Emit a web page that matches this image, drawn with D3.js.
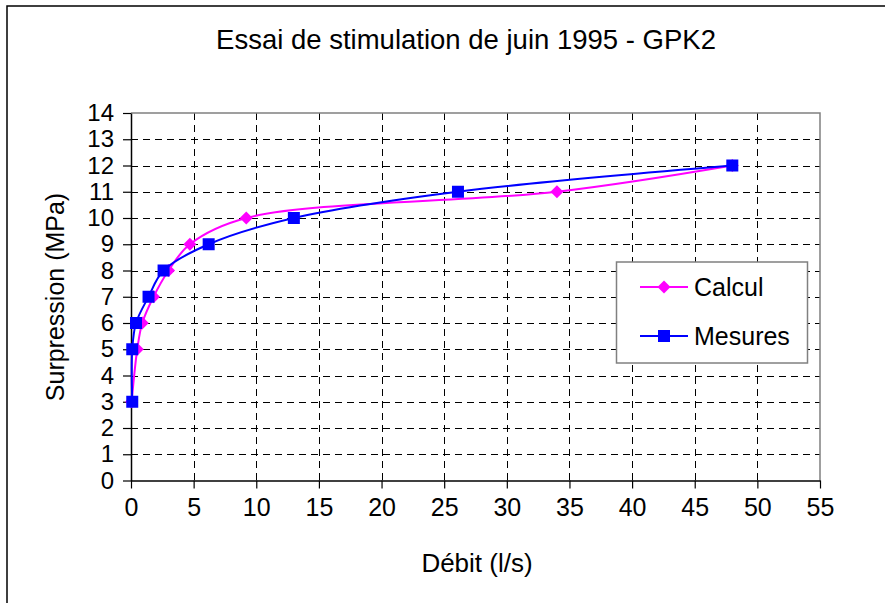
<!DOCTYPE html>
<html>
<head>
<meta charset="utf-8">
<script src="https://cdn.jsdelivr.net/npm/d3@7"></script>
<style>
  body { margin: 0; background: #fff; }
  text { font-family: "Liberation Sans", Arial, sans-serif; fill: #000; }
</style>
</head>
<body>
<script>
// data
var mesuresDebit = [0.1, 0.1, 0.4, 1.4, 2.6, 6.2, 13.0, 26.1, 48.0];
var mesuresPression = [3, 5, 6, 7, 8, 9, 10, 11, 12];
var calculDebit = [0.05, 0.5, 0.9, 1.8, 3.0, 4.7, 9.2, 34.0, 48.0];
var calculPression = [3, 5, 6, 7, 8, 9, 10, 11, 12];
var xTicks = [0, 5, 10, 15, 20, 25, 30, 35, 40, 45, 50, 55];
var yTicks = [0, 1, 2, 3, 4, 5, 6, 7, 8, 9, 10, 11, 12, 13, 14];

var width = 885, height = 603;
var svg = d3.select("body").append("svg").attr("width", width).attr("height", height);

// outer chart frame (runs off the right and bottom edges)
svg.append("rect").attr("x", 7).attr("y", 6).attr("width", 900).attr("height", 700)
  .attr("fill", "none").attr("stroke", "#000").attr("stroke-width", 1.5);

var x = d3.scaleLinear().domain([0, 55]).range([131, 820]);
var y = d3.scaleLinear().domain([0, 14]).range([480.5, 113]);

var grid = svg.append("g");
grid.selectAll(".vg").data(xTicks.filter(function(d){ return d > 0 && d < 55; }))
  .enter().append("line")
  .attr("x1", function(d){ return Math.round(x(d)) + 0.5; })
  .attr("x2", function(d){ return Math.round(x(d)) + 0.5; })
  .attr("y1", y(14)).attr("y2", y(0))
  .attr("stroke", "#000").attr("stroke-dasharray", "7,5");
grid.selectAll(".hg").data(yTicks.filter(function(d){ return d > 0 && d < 14; }))
  .enter().append("line")
  .attr("x1", x(0)).attr("x2", x(55))
  .attr("y1", function(d){ return Math.round(y(d)) + 0.5; })
  .attr("y2", function(d){ return Math.round(y(d)) + 0.5; })
  .attr("stroke", "#000").attr("stroke-dasharray", "7,5");

// plot border top/right
svg.append("path")
  .attr("d", "M" + x(0) + "," + (y(14)) + "H" + x(55) + "V" + y(0))
  .attr("fill", "none").attr("stroke", "#808080").attr("stroke-width", 1.5);

var xAxis = d3.axisBottom(x).tickValues(xTicks).tickSize(8).tickPadding(10).tickSizeOuter(0);
var yAxis = d3.axisLeft(y).tickValues(yTicks).tickSize(8).tickPadding(9).tickSizeOuter(0);

var gx = svg.append("g").attr("transform", "translate(0," + y(0) + ")").call(xAxis);
var gy = svg.append("g").attr("transform", "translate(" + x(0) + ",0)").call(yAxis);
[gx, gy].forEach(function(g){
  g.select(".domain").attr("stroke", "#000").attr("stroke-width", 1.5);
  g.selectAll(".tick line").attr("stroke", "#000").attr("stroke-width", 1.2);
  g.selectAll(".tick text").attr("font-size", 24).attr("font-family", "Liberation Sans, Arial, sans-serif").attr("fill", "#000");
});
gx.selectAll(".tick text").attr("font-size", 25);

svg.append("text").attr("x", 466).attr("y", 49).attr("text-anchor", "middle")
  .attr("font-size", 27.5).text("Essai de stimulation de juin 1995 - GPK2");
svg.append("text").attr("x", 477).attr("y", 572).attr("text-anchor", "middle")
  .attr("font-size", 26).text("Débit (l/s)");
svg.append("text").attr("transform", "translate(64,297) rotate(-90)").attr("text-anchor", "middle")
  .attr("font-size", 25).text("Surpression (MPa)");

var line = d3.line().curve(d3.curveCatmullRom.alpha(0.5))
  .x(function(d){ return x(d[0]); })
  .y(function(d){ return y(d[1]); });

var calcul = d3.zip(calculDebit, calculPression);
var mesures = d3.zip(mesuresDebit, mesuresPression);

var diamond = d3.symbol().type(d3.symbolSquare).size(84);

svg.append("path").datum(calcul).attr("d", line)
  .attr("fill", "none").attr("stroke", "#ff00ff").attr("stroke-width", 2);
svg.selectAll(".dia").data(calcul).enter().append("path")
  .attr("transform", function(d){ return "translate(" + x(d[0]) + "," + y(d[1]) + ") rotate(45)"; })
  .attr("d", diamond)
  .attr("fill", "#ff00ff");

svg.append("path").datum(mesures).attr("d", line)
  .attr("fill", "none").attr("stroke", "#0000ff").attr("stroke-width", 2);
svg.selectAll(".sq").data(mesures).enter().append("rect")
  .attr("x", function(d){ return x(d[0]) - 6; })
  .attr("y", function(d){ return y(d[1]) - 6; })
  .attr("width", 12).attr("height", 12)
  .attr("fill", "#0000ff");

// legend
var legend = svg.append("g");
legend.append("rect").attr("x", 616.5).attr("y", 262).attr("width", 191).attr("height", 101)
  .attr("fill", "#fff").attr("stroke", "#808080").attr("stroke-width", 1.5);
var items = [
  { name: "Calcul", color: "#ff00ff", y: 287 },
  { name: "Mesures", color: "#0000ff", y: 336 }
];
items.forEach(function(it, i){
  legend.append("line").attr("x1", 640).attr("x2", 688).attr("y1", it.y).attr("y2", it.y)
    .attr("stroke", it.color).attr("stroke-width", 2);
  if (i === 0) {
    legend.append("path").attr("transform", "translate(664," + it.y + ") rotate(45)")
      .attr("d", diamond).attr("fill", it.color);
  } else {
    legend.append("rect").attr("x", 658).attr("y", it.y - 6).attr("width", 12).attr("height", 12)
      .attr("fill", it.color);
  }
  legend.append("text").attr("x", 694).attr("y", it.y + 9).attr("font-size", 25).text(it.name);
});
</script>
</body>
</html>
